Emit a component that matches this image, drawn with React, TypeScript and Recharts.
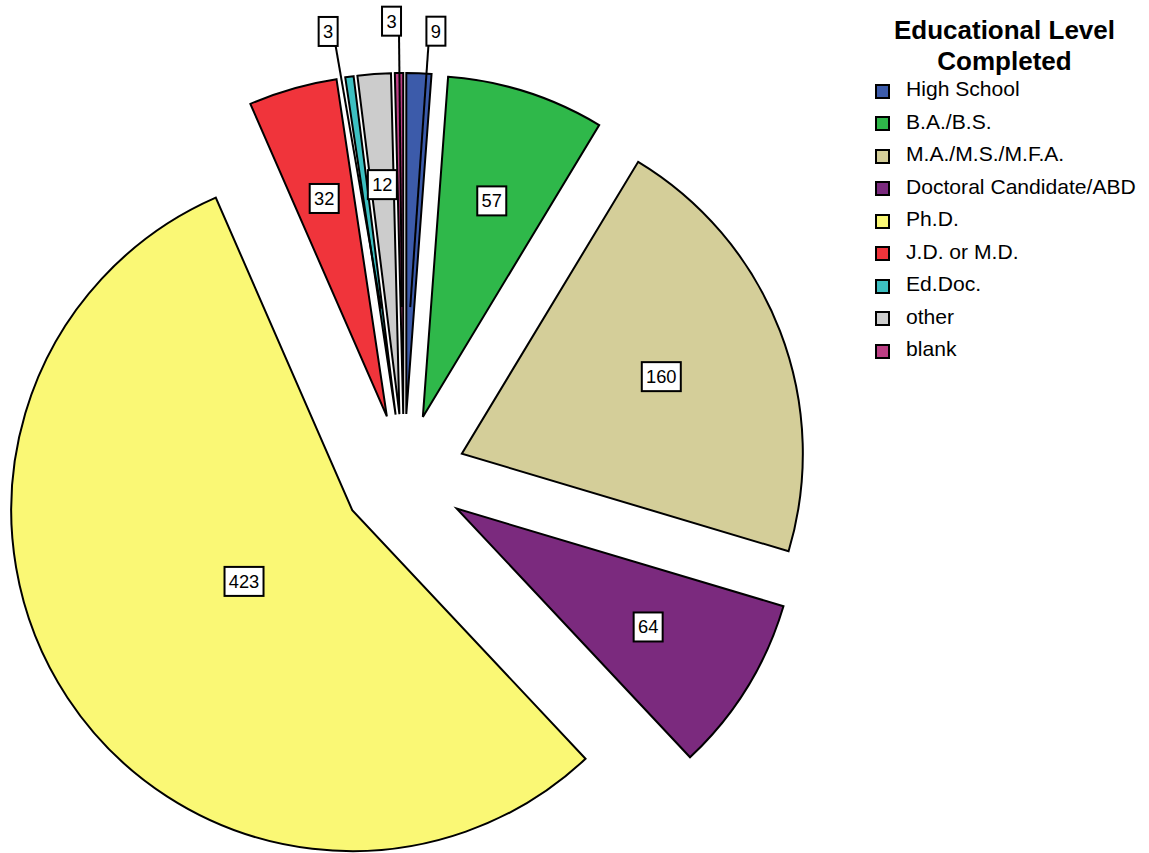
import React from 'react';
import { PieChart, Pie, Cell, Legend } from 'recharts';

const categories = [
  'High School',
  'B.A./B.S.',
  'M.A./M.S./M.F.A.',
  'Doctoral Candidate/ABD',
  'Ph.D.',
  'J.D. or M.D.',
  'Ed.Doc.',
  'other',
  'blank',
];
const counts = [9, 57, 160, 64, 423, 32, 3, 12, 3];
const colors = ['#3C5BAA', '#2FB84A', '#D4CE99', '#7B2A7E', '#FAF875', '#F0343B', '#3DBFC1', '#CCCCCC', '#BC3F84'];
const legendTitle = ['Educational Level', 'Completed'];

const data = categories.map((name, i) => ({ name, value: counts[i] }));

// layout / style
const FONT = '"Liberation Sans", Arial, Helvetica, sans-serif';
const W = 1149;
const H = 853;
const CX = 404;
const CY = 476;
const R = 341;
const EXPLODE = 62;
const RAD = Math.PI / 180;

type LabelStyle = { frac?: number; outside?: boolean; shiftCw?: number; radius?: number; leader?: number };
const labelStyles: LabelStyle[] = [
  { outside: true, shiftCw: 2.3, radius: 384, leader: 107 },
  { frac: 0.665 },
  { frac: 0.627 },
  { frac: 0.66 },
  { frac: 0.38 },
  { frac: 0.665 },
  { outside: true, shiftCw: -2.2, radius: 389, leader: 107 },
  { frac: 0.675 },
  { outside: true, shiftCw: -1.0, radius: 393, leader: 107 },
];

const total = counts.reduce((a, b) => a + b, 0);
// clockwise angle (from 12 o'clock) of each slice's middle, used for the explode offset
const midCw = counts.map((v, i) => {
  const before = counts.slice(0, i).reduce((a, b) => a + b, 0);
  return ((before + v / 2) / total) * 360;
});

const polar = (cx: number, cy: number, r: number, angle: number) => ({
  x: cx + r * Math.cos(-angle * RAD),
  y: cy + r * Math.sin(-angle * RAD),
});

const makeLabel = (k: number) => (props: any) => {
  if (props.index !== k) return null;
  const { cx, cy, midAngle, outerRadius } = props;
  const text = String(counts[k]);
  const w = text.length * 10 + 9;
  const h = 29;
  const st = labelStyles[k];
  let bx: number;
  let by: number;
  let line: React.ReactNode = null;
  if (st.outside) {
    const p = polar(cx, cy, st.radius!, midAngle - st.shiftCw!);
    bx = p.x;
    by = p.y;
    const inner = polar(cx, cy, st.leader!, midAngle);
    const sx = inner.x > bx ? bx + w / 2 - 2 : bx - w / 2 + 2;
    const sy = by + h / 2;
    line = <line x1={sx} y1={sy} x2={inner.x} y2={inner.y} stroke="#000" strokeWidth={2} />;
  } else {
    const p = polar(cx, cy, outerRadius * st.frac!, midAngle);
    bx = p.x;
    by = p.y;
  }
  return (
    <g>
      {line}
      <rect x={bx - w / 2} y={by - h / 2} width={w} height={h} fill="#fff" stroke="#000" strokeWidth={2} />
      <text x={bx} y={by + 6.5} textAnchor="middle" fontFamily={FONT} fontSize={18.3} fill="#000">
        {text}
      </text>
    </g>
  );
};

const renderLegend = () => (
  <div style={{ fontFamily: FONT, color: '#000', width: 289 }}>
    <div style={{ fontSize: 26, fontWeight: 'bold', lineHeight: '31px', textAlign: 'center', paddingTop: 15 }}>
      {legendTitle.map((t) => (
        <div key={t}>{t}</div>
      ))}
    </div>
    <div style={{ marginTop: -2 }}>
      {categories.map((c, i) => (
        <div key={c} style={{ display: 'flex', alignItems: 'center', height: 32.5 }}>
          <span
            style={{
              display: 'inline-block',
              width: 15,
              height: 15,
              boxSizing: 'border-box',
              border: '2px solid #000',
              background: colors[i],
              marginLeft: 15,
              marginRight: 16,
              flex: 'none',
            }}
          />
          <span style={{ fontSize: 21.1, lineHeight: '24px', position: 'relative', top: -2, whiteSpace: 'nowrap' }}>{c}</span>
        </div>
      ))}
    </div>
  </div>
);

export default function App() {
  return (
    <div style={{ position: 'absolute', left: 0, top: 0, width: W, height: H, background: '#fff' }}>
      <PieChart width={W} height={H} margin={{ top: 0, right: 0, bottom: 0, left: 0 }}>
        {categories.map((_, k) => (
          <Pie
            key={k}
            data={data}
            dataKey="value"
            nameKey="name"
            cx={CX + EXPLODE * Math.sin(midCw[k] * RAD)}
            cy={CY - EXPLODE * Math.cos(midCw[k] * RAD)}
            outerRadius={R}
            innerRadius={0}
            startAngle={90}
            endAngle={-270}
            isAnimationActive={false}
            labelLine={false}
            label={makeLabel(k)}
          >
            {data.map((d, i) => (
              <Cell
                key={d.name}
                fill={i === k ? colors[i] : 'none'}
                stroke={i === k ? '#000' : 'none'}
                strokeWidth={2}
              />
            ))}
          </Pie>
        ))}
        <Legend
          layout="vertical"
          align="right"
          verticalAlign="top"
          wrapperStyle={{ position: 'absolute', left: 860, top: 0, width: 289 }}
          content={renderLegend}
        />
      </PieChart>
    </div>
  );
}
